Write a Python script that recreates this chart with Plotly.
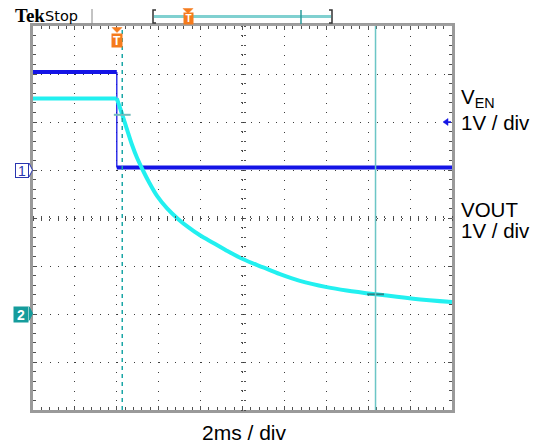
import plotly.graph_objects as go

# ---------------- data ----------------
# time in ms (2 ms/div, 10 divisions), voltages in V (1 V/div)
ven_t = [0.0, 4.0, 4.0, 20.0]
ven_v = [2.04, 2.04, 0.05, 0.05]

vout_t = [0.0, 4.0, 4.28, 4.49, 4.73, 4.96, 5.24, 5.52, 5.92, 6.40, 6.95,
          7.41, 7.97, 8.61, 9.25, 10.04, 10.99, 11.79, 12.74, 14.02, 14.97,
          16.36, 18.15, 20.0]
vout_v = [4.49, 4.49, 4.13, 3.84, 3.52, 3.26, 3.00, 2.76, 2.46, 2.20, 1.97,
          1.81, 1.64, 1.48, 1.32, 1.14, 0.97, 0.83, 0.69, 0.56, 0.49,
          0.41, 0.32, 0.25]

cursor_t = [4.26, 16.35]          # cursor 1 (dashed), cursor 2 (solid)
cursor_v = [4.15, 0.41]           # VOUT value marked at each cursor
trigger_t = 4.0
trigger_level = 1.0               # ch1 trigger level (V)

labels_right = ["V<sub>EN</sub>", "1V / div", "VOUT", "1V / div"]
label_bottom = "2ms / div"

# ---------------- geometry / style ----------------
W, H = 537, 444
L, R, T, B = 33, 85, 26, 34
PW, PH = W - L - R, H - T - B


def px(xp):
    return (xp - L) / PW


def py(yp):
    return (H - B - yp) / PH


BLUE = "#1414e6"
CYAN = "#22f0f0"
TEAL = "#159c9c"
ORANGE = "#f57b1c"
GRID = "#3c3c3c"
BORDER = "#9a9a9a"
FONT = "Liberation Sans, Arial, sans-serif"

fig = go.Figure()

# VEN: thick level segments + thin edge
fig.add_trace(go.Scatter(
    x=[ven_t[0], ven_t[1], None, ven_t[2], ven_t[3]],
    y=[ven_v[0], ven_v[1], None, ven_v[2], ven_v[3]],
    mode="lines", line=dict(color=BLUE, width=4), xaxis="x", yaxis="y",
    hoverinfo="skip", showlegend=False))
fig.add_trace(go.Scatter(
    x=ven_t[1:3], y=ven_v[1:3], mode="lines",
    line=dict(color=BLUE, width=1.3), xaxis="x", yaxis="y",
    hoverinfo="skip", showlegend=False))

# VOUT: flat part, then smooth decay
fig.add_trace(go.Scatter(
    x=vout_t[:2], y=vout_v[:2], mode="lines",
    line=dict(color=CYAN, width=4), xaxis="x", yaxis="y2",
    hoverinfo="skip", showlegend=False))
fig.add_trace(go.Scatter(
    x=vout_t[1:], y=vout_v[1:], mode="lines",
    line=dict(color=CYAN, width=4, shape="spline", smoothing=1.0),
    xaxis="x", yaxis="y2", hoverinfo="skip", showlegend=False))

# cursor value ticks
fig.add_trace(go.Scatter(
    x=cursor_t, y=cursor_v, mode="markers", xaxis="x", yaxis="y2",
    marker=dict(symbol="line-ew", size=12,
                line=dict(width=2, color=["#72bcbc", "#2a8686"])),
    hoverinfo="skip", showlegend=False))

# dummy traces so the centre cross-hair axes are drawn
fig.add_trace(go.Scatter(x=[None], y=[None], xaxis="x3", yaxis="y3",
                         showlegend=False, hoverinfo="skip"))
fig.add_trace(go.Scatter(x=[None], y=[None], xaxis="x4", yaxis="y4",
                         showlegend=False, hoverinfo="skip"))

common_main = dict(showticklabels=False, zeroline=False, showline=True,
                   linecolor=BORDER, linewidth=3, mirror="ticks",
                   ticks="inside", ticklen=4, tickcolor="#505050",
                   gridcolor=GRID, gridwidth=1, fixedrange=True)

xaxis = dict(common_main, range=[0, 20], dtick=2, tick0=0,
             griddash="1px,8.6px",
             minor=dict(ticks="inside", ticklen=3, dtick=0.4, tick0=0,
                        tickcolor="#505050", showgrid=False))
yaxis = dict(common_main, range=[-5, 3], dtick=1, tick0=0,
             griddash="1px,7.38px",
             minor=dict(ticks="inside", ticklen=3, dtick=0.2, tick0=0,
                        tickcolor="#505050", showgrid=False))

cross = dict(showgrid=False, zeroline=False, showticklabels=False,
             showline=False, ticks="outside", ticklen=2, tickwidth=1,
             tickcolor="#505050", anchor="free", position=0.5,
             fixedrange=True)

fig.update_layout(
    width=W, height=H,
    margin=dict(l=L, r=R, t=T, b=B, pad=0),
    paper_bgcolor="white", plot_bgcolor="white",
    xaxis=xaxis, yaxis=yaxis,
    yaxis2=dict(overlaying="y", range=[-2, 6], visible=False,
                fixedrange=True),
    xaxis3=dict(cross, overlaying="x", side="bottom", range=[0, 20],
                dtick=0.4, tick0=0),
    xaxis4=dict(cross, overlaying="x", side="top", range=[0, 20],
                dtick=0.4, tick0=0),
    yaxis3=dict(cross, overlaying="y", side="left", range=[-5, 3],
                dtick=0.2, tick0=0),
    yaxis4=dict(cross, overlaying="y", side="right", range=[-5, 3],
                dtick=0.2, tick0=0),
    font=dict(family=FONT, color="black"),
    showlegend=False,
)

shapes = []
# cursors
shapes.append(dict(type="line", xref="x", yref="paper", x0=cursor_t[0],
                   x1=cursor_t[0], y0=0, y1=1,
                   line=dict(color="#1aa6a6", width=1.5, dash="4px,4px")))
shapes.append(dict(type="line", xref="x", yref="paper", x0=cursor_t[1],
                   x1=cursor_t[1], y0=0, y1=1,
                   line=dict(color="#6cc6c6", width=1.5)))
# header: separator and record-view bar
shapes.append(dict(type="line", xref="paper", yref="paper", x0=px(92),
                   x1=px(92), y0=py(25), y1=py(9),
                   line=dict(color="#888888", width=1)))
shapes.append(dict(type="line", xref="paper", yref="paper", x0=px(92),
                   x1=1, y0=py(25), y1=py(25),
                   line=dict(color="#a0a0a0", width=2)))
shapes.append(dict(type="line", xref="paper", yref="paper", x0=px(154),
                   x1=px(331), y0=py(16.5), y1=py(16.5),
                   line=dict(color="#80d0d0", width=3)))
shapes.append(dict(type="line", xref="paper", yref="paper", x0=px(301),
                   x1=px(301), y0=py(24), y1=py(10),
                   line=dict(color="#2a9a9a", width=1.5)))
# brackets
for xb, d in ((153, 1), (332, -1)):
    shapes.append(dict(type="path", xref="paper", yref="paper",
                       path=f"M {px(xb + 3 * d)},{py(10)} L {px(xb)},{py(10)} "
                            f"L {px(xb)},{py(23)} L {px(xb + 3 * d)},{py(23)}",
                       line=dict(color="#333333", width=1.5)))
# trigger triangles (graticule top and header)
for xc, ytop in ((117, 27.5), (188, 8.5)):
    shapes.append(dict(type="path", xref="paper", yref="paper",
                       path=f"M {px(xc - 5)},{py(ytop)} L {px(xc + 5)},{py(ytop)} "
                            f"L {px(xc)},{py(ytop + 5)} Z",
                       fillcolor=ORANGE, line=dict(color=ORANGE, width=0.5)))
# channel badge pointers
for yc, col, fill in ((170, "#2a36b0", "white"), (313.5, TEAL, TEAL)):
    shapes.append(dict(type="path", xref="paper", yref="paper",
                       path=f"M {px(29)},{py(yc - 7)} L {px(32.5)},{py(yc)} "
                            f"L {px(29)},{py(yc + 7)}",
                       fillcolor=fill, line=dict(color=col, width=1)))
# trigger level arrow (ch1), drawn in pixels around its anchor
shapes.append(dict(type="path", xref="paper", yref="y",
                   xsizemode="pixel", ysizemode="pixel",
                   xanchor=px(443), yanchor=trigger_level,
                   path="M 0,0 L 5,3.5 L 5,-3.5 Z",
                   fillcolor=BLUE, line=dict(color=BLUE, width=0.5)))
shapes.append(dict(type="path", xref="paper", yref="y",
                   xsizemode="pixel", ysizemode="pixel",
                   xanchor=px(443), yanchor=trigger_level,
                   path="M 4,0 L 8,0",
                   line=dict(color=BLUE, width=1.5)))
fig.update_layout(shapes=shapes)

ann = []
# right-hand labels
for text, yc in zip(labels_right, [98, 122, 209.7, 230]):
    ann.append(dict(text=text, xref="paper", yref="paper", x=px(459),
                    y=py(yc), xanchor="left", yanchor="middle",
                    showarrow=False, font=dict(size=20.5, family=FONT)))
ann.append(dict(text=label_bottom, xref="paper", yref="paper", x=px(244.7),
                y=py(432), xanchor="center", yanchor="middle",
                showarrow=False, font=dict(size=21, family=FONT)))
# header text
ann.append(dict(text="<b>Tek</b>", xref="paper", yref="paper", x=px(13),
                y=py(16), xanchor="left", yanchor="middle", showarrow=False,
                font=dict(size=19, family="Liberation Serif, serif")))
ann.append(dict(text="Stop", xref="paper", yref="paper", x=px(43),
                y=py(16), xanchor="left", yanchor="middle", showarrow=False,
                font=dict(size=14.5, family="DejaVu Sans, sans-serif")))
# header trigger badge
ann.append(dict(text="<b>T</b>", xref="paper", yref="paper", x=px(188),
                y=py(18.5), xanchor="center", yanchor="middle",
                showarrow=False, bgcolor=ORANGE, borderpad=0, width=9,
                height=11, font=dict(size=10, color="white", family=FONT)))
# trigger badge on graticule
ann.append(dict(text="<b>T</b>", xref="x", yref="paper", x=trigger_t,
                y=py(40.5), xanchor="center", yanchor="middle",
                showarrow=False, bgcolor=ORANGE, borderpad=0, width=10,
                height=13, font=dict(size=12, color="white", family=FONT)))
# channel badges
ann.append(dict(text="1", xref="paper", yref="y", x=px(29), y=0,
                xanchor="right", yanchor="middle", showarrow=False,
                bgcolor="white", bordercolor="#2a36b0", borderwidth=1,
                borderpad=0, width=12, height=13,
                font=dict(size=14, color="#2a36b0", family=FONT)))
ann.append(dict(text="<b>2</b>", xref="paper", yref="y2", x=px(29), y=0,
                xanchor="right", yanchor="middle", showarrow=False,
                bgcolor=TEAL, borderpad=0, width=14, height=15,
                font=dict(size=14, color="white", family=FONT)))
fig.update_layout(annotations=ann)

fig.write_html("out.html", config={"displayModeBar": False},
               post_script="document.body.style.margin='0';")
